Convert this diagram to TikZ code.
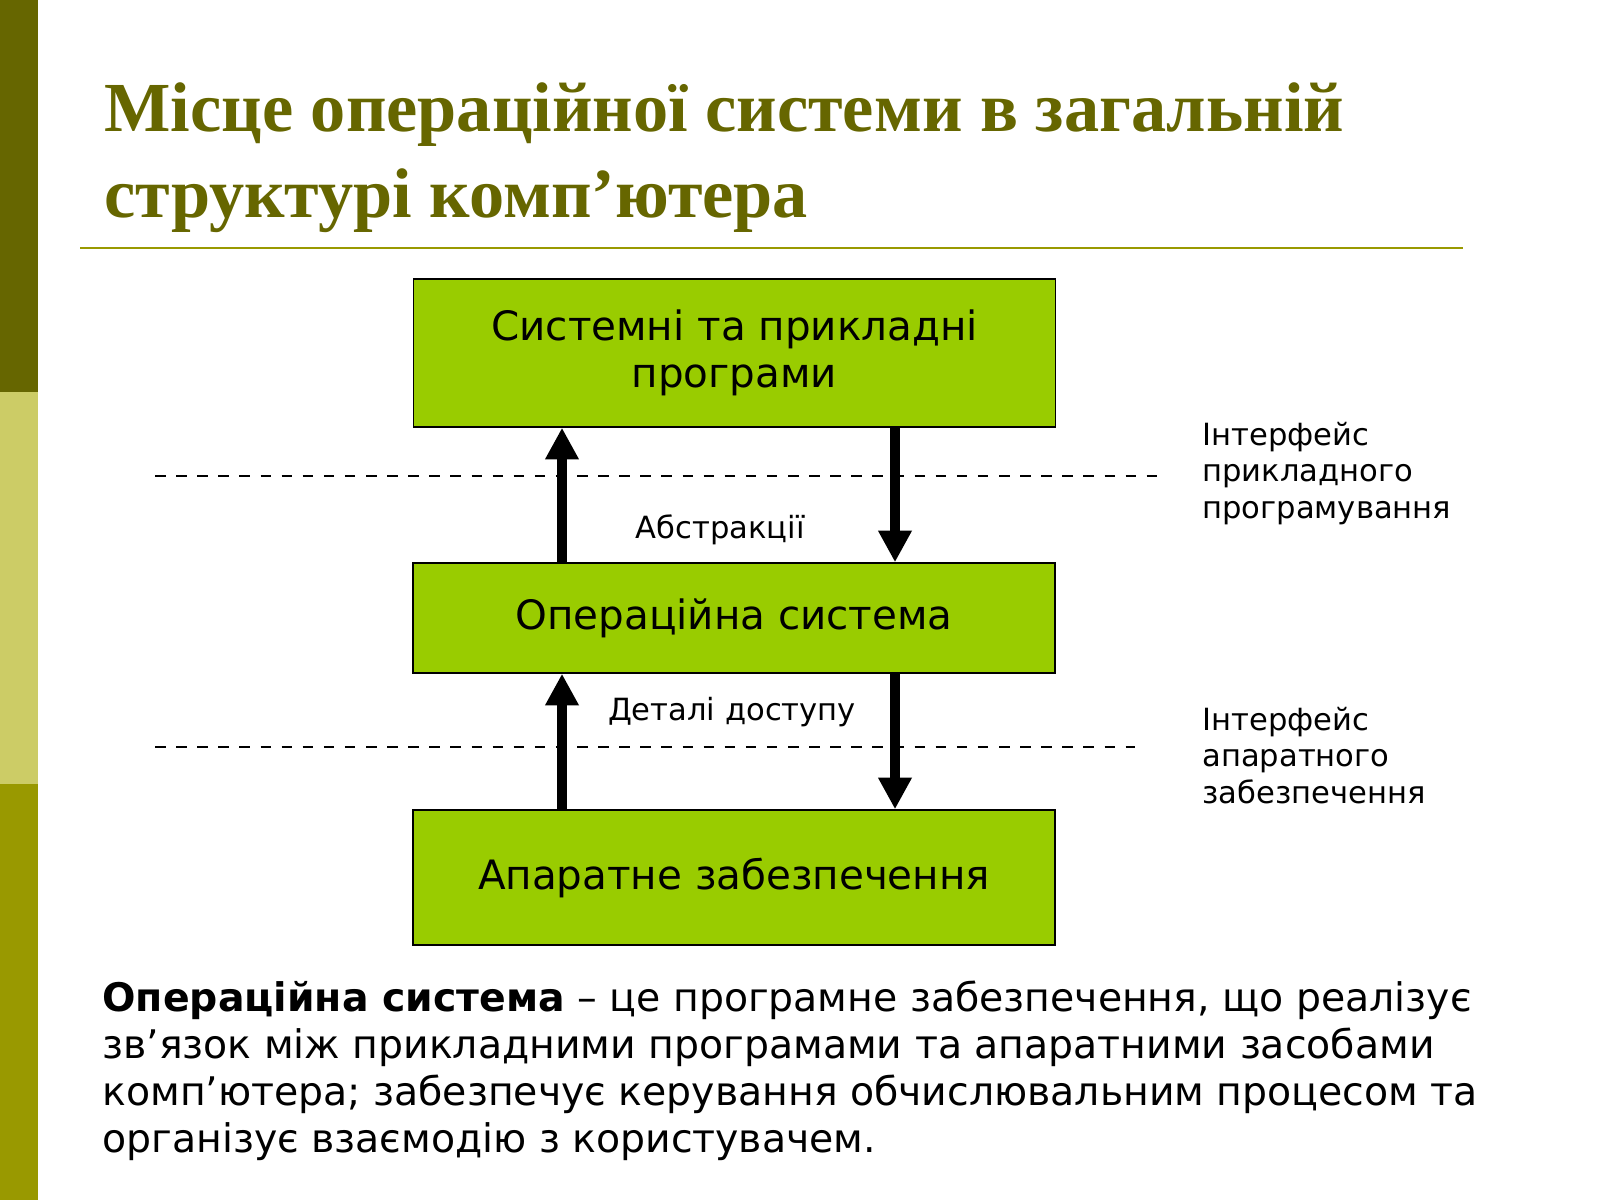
\documentclass[tikz,border=0pt]{standalone}
\usepackage{fontspec}
\setmainfont{DejaVu Sans}
\newfontfamily\titlefont{Liberation Serif}
\usetikzlibrary{arrows.meta}
\definecolor{olive}{HTML}{666600}
\definecolor{palebar}{HTML}{CCCC66}
\definecolor{midbar}{HTML}{999900}
\definecolor{boxgreen}{HTML}{99CC00}
\begin{document}
\begin{tikzpicture}
[
x=0.01cm, y=-0.01cm,
block/.style={draw=black, fill=boxgreen, align=center, minimum width=6.42cm, font=\fontsize{11.5}{13.5}\selectfont},
flow/.style={line width=2.9pt, -{Triangle[length=9pt,width=9pt]}},
cut/.style={dash pattern=on 3pt off 3pt, semithick},
side/.style={anchor=north west, align=left, font=\fontsize{8.7}{10.3}\selectfont}
]
\useasboundingbox (0,0) rectangle (1600,1200);
%Bar
\fill[olive] (0,0) rectangle (38,392);
\fill[palebar] (0,392) rectangle (38,784);
\fill[midbar] (0,784) rectangle (38,1200);
%Title
\node[anchor=west, align=left, text=olive, font=\titlefont\bfseries\fontsize{20}{24.5}\selectfont] (title) at (92,158)
  {Місце операційної системи в загальній\\структурі комп’ютера};
\draw[midbar, thick] (80,248) -- (1463,248);
%Nodes
\node[block, minimum height=1.48cm] (apps) at (734.5,353) {Системні та прикладні\\програми};
\node[block, minimum height=1.10cm] (os) at (734,618) {Операційна система};
\node[block, minimum height=1.35cm] (hw) at (734,877.5) {Апаратне забезпечення};
\coordinate (upx) at (562,0);
\coordinate (downx) at (895,0);
%Lines
\draw[cut] (155,476) -- (1160,476);
\draw[cut] (155,747) -- (1135,747);
\draw[flow] (os.north -| upx) -- (apps.south -| upx);
\draw[flow] (apps.south -| downx) -- (os.north -| downx);
\draw[flow] (hw.north -| upx) -- (os.south -| upx);
\draw[flow] (os.south -| downx) -- (hw.north -| downx);
%Labels
\node[font=\fontsize{8.7}{10.3}\selectfont] (abs) at (720,530) {Абстракції};
\node[font=\fontsize{8.7}{10.3}\selectfont] (det) at (732,712) {Деталі доступу};
\node[side] (api) at (1190,410) {Інтерфейс\\прикладного\\програмування};
\node[side] (hwi) at (1190,695) {Інтерфейс\\апаратного\\забезпечення};
\node[anchor=north west, align=left, font=\fontsize{11.2}{13.4}\selectfont] (def) at (90,968)
  {\textbf{Операційна система} – це програмне забезпечення, що реалізує\\
   зв’язок між прикладними програмами та апаратними засобами\\
   комп’ютера; забезпечує керування обчислювальним процесом та\\
   організує взаємодію з користувачем.};
\end{tikzpicture}
\end{document}
